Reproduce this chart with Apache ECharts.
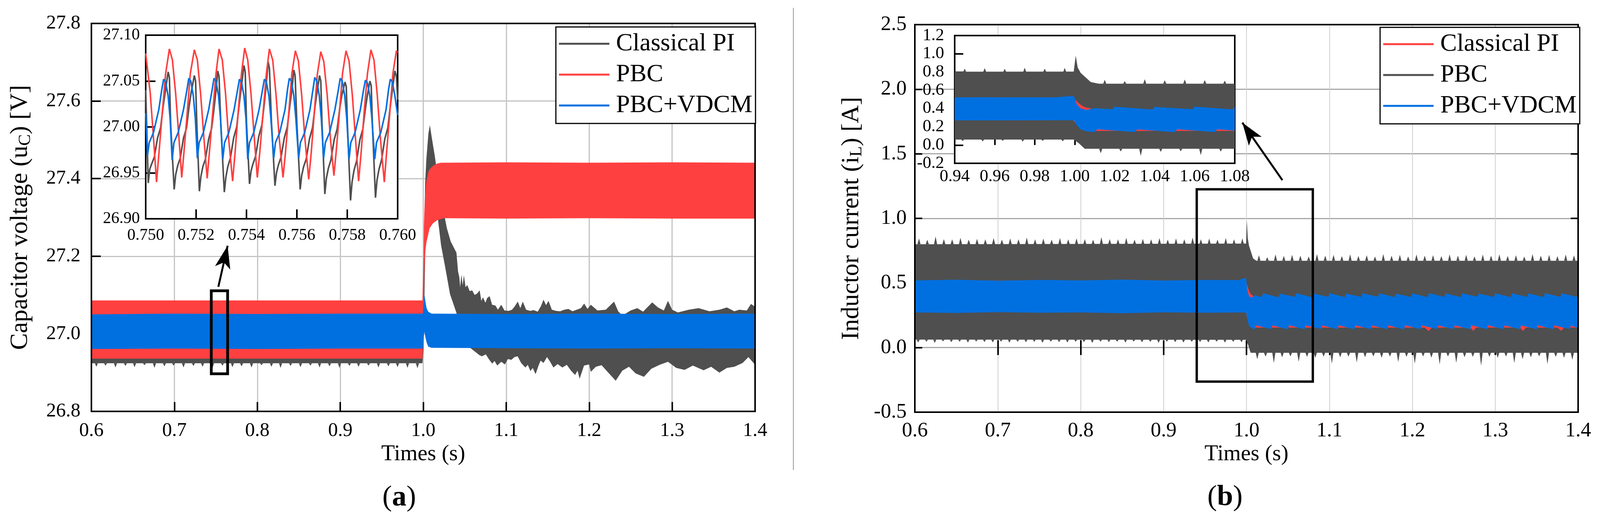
<!DOCTYPE html>
<html>
<head>
<meta charset="utf-8">
<title>uC / iL</title>
<script src="https://cdn.jsdelivr.net/npm/echarts/dist/echarts.min.js"></script>
<style>
html, body { margin: 0; padding: 0; background: #fff; overflow: hidden; }
#chart { width: 4171px; height: 1331px; }
</style>
</head>
<body>
<div id="chart"></div>
<script>
// (a) 电容电压 主图包络 —— Classical PI (灰)
var aPiUpT = [0.600,0.999,1.0003,1.0015,1.0023,1.0038,1.0062,1.0080,1.0108,1.0138,1.0154,1.0200,1.0250,1.0285,1.0331,1.0400,1.0420,1.0435,1.0445,1.0460,1.0475,1.0490,1.0510,1.0530,1.0560,1.0590,1.0620,1.0650,1.0680,1.0700,1.0720,1.0750,1.0770,1.0800,1.0830,1.0870,1.0900,1.0940,1.0980,1.1030,1.1070,1.1100,1.1140,1.1170,1.1200,1.1240,1.1290,1.1330,1.1380,1.1420,1.1450,1.1480,1.1510,1.1550,1.1600,1.1650,1.1700,1.1750,1.1800,1.1850,1.1900,1.1940,1.1980,1.2020,1.2100,1.2200,1.2300,1.2350,1.2400,1.2500,1.2580,1.2650,1.2760,1.2830,1.2900,1.2950,1.3000,1.3070,1.3200,1.3320,1.3450,1.3570,1.3660,1.3750,1.3810,1.3900,1.3950,1.4000];
var aPiUpV = [27.070,27.070,27.150,27.300,27.388,27.451,27.516,27.538,27.499,27.460,27.436,27.380,27.310,27.272,27.238,27.209,27.160,27.146,27.120,27.153,27.125,27.151,27.120,27.126,27.110,27.112,27.100,27.104,27.112,27.085,27.094,27.080,27.092,27.097,27.075,27.073,27.062,27.075,27.060,27.059,27.062,27.070,27.083,27.066,27.083,27.062,27.059,27.061,27.057,27.072,27.088,27.074,27.085,27.062,27.059,27.058,27.062,27.064,27.058,27.062,27.066,27.078,27.064,27.075,27.060,27.062,27.083,27.058,27.047,27.060,27.066,27.057,27.081,27.068,27.060,27.085,27.062,27.055,27.062,27.066,27.058,27.062,27.068,27.058,27.062,27.060,27.077,27.070];
var aPiLoT = [0.600,0.999,1.0003,1.0015,1.0023,1.0038,1.0062,1.0080,1.0108,1.0154,1.0177,1.0215,1.0262,1.0323,1.0362,1.0400,1.0450,1.0500,1.0600,1.0677,1.0708,1.0754,1.0790,1.0831,1.0860,1.0892,1.0940,1.0985,1.1020,1.1062,1.1100,1.1138,1.1180,1.1231,1.1260,1.1292,1.1320,1.1354,1.1390,1.1415,1.1450,1.1492,1.1530,1.1569,1.1620,1.1677,1.1730,1.1785,1.1831,1.1860,1.1885,1.1910,1.1938,1.2000,1.2020,1.2080,1.2150,1.2230,1.2320,1.2400,1.2480,1.2560,1.2660,1.2750,1.2850,1.2950,1.3050,1.3150,1.3250,1.3380,1.3470,1.3570,1.3660,1.3750,1.3850,1.3920,1.4000];
var aPiLoV = [26.924,26.924,26.960,27.100,27.200,27.300,27.360,27.380,27.370,27.330,27.296,27.228,27.175,27.102,27.078,27.054,27.000,26.975,26.958,26.945,26.942,26.947,26.935,26.923,26.930,26.918,26.928,26.921,26.935,26.933,26.940,26.942,26.925,26.913,26.920,26.904,26.912,26.896,26.918,26.931,26.925,26.940,26.928,26.913,26.922,26.913,26.920,26.904,26.894,26.905,26.884,26.900,26.918,26.921,26.902,26.915,26.919,26.900,26.879,26.905,26.915,26.898,26.889,26.910,26.920,26.928,26.912,26.907,26.918,26.906,26.915,26.900,26.912,26.915,26.925,26.940,26.920];
// Classical PI 0.6-1.0 s 下沿的尖刺
var aPiSpikeT = [0.606,0.617,0.629,0.641,0.652,0.664,0.676,0.688,0.699,0.711,0.723,0.734,0.746,0.758,0.770,0.781,0.793,0.805,0.817,0.828,0.840,0.852,0.864,0.875,0.887,0.899,0.911,0.922,0.934,0.946,0.958,0.969,0.981,0.993];
var aPiSpikeV = [26.915,26.918,26.913,26.917,26.914,26.919,26.912,26.916,26.918,26.913,26.917,26.915,26.912,26.918,26.914,26.916,26.913,26.919,26.915,26.912,26.917,26.914,26.918,26.913,26.916,26.912,26.917,26.915,26.918,26.913,26.916,26.914,26.912,26.911];
var aPiSpikeBase = 26.924;

// (a) PBC (红)
var aPbT = [0.600,0.999,1.0003,1.0008,1.0015,1.0023,1.0038,1.0046,1.0062,1.0077,1.0108,1.0123,1.0169,1.0215,1.0246,1.1000,1.2000,1.3000,1.4000];
var aPbUpV = [27.086,27.086,27.200,27.280,27.325,27.359,27.395,27.402,27.417,27.424,27.431,27.434,27.439,27.441,27.441,27.442,27.441,27.442,27.441];
var aPbLoV = [26.936,26.936,26.990,27.100,27.170,27.209,27.235,27.243,27.258,27.272,27.282,27.286,27.293,27.296,27.298,27.297,27.298,27.297,27.297];

// (a) PBC+VDCM (蓝)
var aVdT = [0.600,0.700,0.800,0.900,0.9995,1.0005,1.0015,1.0025,1.0040,1.0060,1.0100,1.1000,1.2000,1.3000,1.4000];
var aVdUpV = [27.050,27.052,27.051,27.052,27.052,27.085,27.100,27.085,27.066,27.057,27.052,27.051,27.052,27.051,27.052];
var aVdLoV = [26.961,26.962,26.961,26.962,26.962,26.990,27.005,26.992,26.978,26.967,26.964,26.963,26.962,26.963,26.962];

// (a) 局部放大 0.750-0.760 s
var insRedT = [0.75000,0.75018,0.75033,0.75043,0.75053,0.75066,0.75079,0.75094,0.75106,0.75119,0.75132,0.75143,0.75152,0.75165,0.75177,0.75193,0.75205,0.75218,0.75231,0.75244,0.75253,0.75266,0.75279,0.75291,0.75304,0.75317,0.75329,0.75345,0.75355,0.75367,0.75380,0.75393,0.75405,0.75418,0.75431,0.75443,0.75453,0.75466,0.75479,0.75491,0.75504,0.75517,0.75530,0.75545,0.75555,0.75568,0.75580,0.75594,0.75606,0.75619,0.75632,0.75647,0.75657,0.75669,0.75681,0.75695,0.75707,0.75720,0.75733,0.75747,0.75756,0.75769,0.75781,0.75795,0.75807,0.75820,0.75833,0.75845,0.75855,0.75867,0.75880,0.75894,0.75906,0.75919,0.75932,0.75947,0.75956,0.75969,0.75981,0.75995,0.76000];
var insRedV = [27.080,27.037,26.980,26.940,26.973,27.016,27.058,27.085,27.073,27.036,26.988,26.945,26.973,27.016,27.058,27.084,27.073,27.036,26.988,26.944,26.973,27.016,27.058,27.085,27.073,27.036,26.988,26.941,26.973,27.016,27.058,27.086,27.073,27.036,26.988,26.945,26.973,27.016,27.058,27.085,27.073,27.036,26.988,26.945,26.973,27.016,27.058,27.083,27.072,27.035,26.987,26.943,26.972,27.015,27.057,27.082,27.071,27.036,26.988,26.947,26.973,27.016,27.058,27.083,27.072,27.035,26.986,26.941,26.972,27.016,27.058,27.084,27.073,27.035,26.986,26.940,26.972,27.016,27.058,27.083,27.081];
var insBlueT = [0.75000,0.75007,0.75014,0.75031,0.75052,0.75064,0.75071,0.75079,0.75089,0.75097,0.75105,0.75112,0.75129,0.75150,0.75164,0.75171,0.75179,0.75189,0.75197,0.75205,0.75212,0.75229,0.75250,0.75264,0.75271,0.75279,0.75289,0.75297,0.75306,0.75313,0.75330,0.75351,0.75365,0.75372,0.75380,0.75390,0.75398,0.75405,0.75412,0.75429,0.75450,0.75464,0.75471,0.75479,0.75489,0.75497,0.75508,0.75515,0.75532,0.75553,0.75563,0.75570,0.75578,0.75588,0.75596,0.75607,0.75614,0.75631,0.75652,0.75664,0.75671,0.75679,0.75689,0.75697,0.75706,0.75713,0.75730,0.75751,0.75765,0.75772,0.75780,0.75790,0.75798,0.75807,0.75814,0.75831,0.75852,0.75865,0.75872,0.75880,0.75890,0.75898,0.75909,0.75916,0.75933,0.75954,0.75964,0.75971,0.75979,0.75989,0.76000];
var insBlueV = [27.015,26.969,26.983,26.994,27.019,27.041,27.052,27.049,27.034,27.009,26.964,26.983,26.994,27.019,27.041,27.053,27.050,27.034,27.009,26.966,26.983,26.994,27.019,27.041,27.053,27.050,27.034,27.009,26.965,26.983,26.994,27.019,27.041,27.052,27.049,27.034,27.009,26.965,26.983,26.994,27.019,27.041,27.052,27.049,27.034,27.009,26.966,26.983,26.994,27.019,27.041,27.053,27.050,27.034,27.009,26.966,26.983,26.994,27.019,27.041,27.054,27.050,27.034,27.009,26.966,26.983,26.994,27.019,27.041,27.053,27.050,27.034,27.009,26.965,26.983,26.994,27.019,27.041,27.051,27.048,27.033,27.008,26.965,26.983,26.994,27.019,27.041,27.052,27.049,27.034,27.013];
var insGrayT = [0.75000,0.75005,0.75010,0.75016,0.75024,0.75034,0.75047,0.75059,0.75069,0.75077,0.75089,0.75094,0.75099,0.75113,0.75119,0.75127,0.75137,0.75150,0.75162,0.75172,0.75180,0.75193,0.75198,0.75203,0.75213,0.75219,0.75227,0.75237,0.75250,0.75262,0.75272,0.75279,0.75286,0.75291,0.75298,0.75312,0.75318,0.75326,0.75336,0.75349,0.75361,0.75371,0.75379,0.75390,0.75395,0.75400,0.75412,0.75418,0.75426,0.75436,0.75449,0.75461,0.75471,0.75478,0.75486,0.75491,0.75499,0.75513,0.75519,0.75527,0.75537,0.75550,0.75562,0.75572,0.75580,0.75588,0.75593,0.75600,0.75613,0.75619,0.75627,0.75637,0.75650,0.75662,0.75672,0.75680,0.75690,0.75695,0.75700,0.75711,0.75717,0.75725,0.75735,0.75748,0.75760,0.75770,0.75778,0.75791,0.75796,0.75801,0.75813,0.75819,0.75827,0.75837,0.75850,0.75862,0.75872,0.75880,0.75890,0.75895,0.75900,0.75912,0.75918,0.75926,0.75936,0.75949,0.75961,0.75971,0.75979,0.75989,0.75995,0.76000];
var insGrayV = [27.040,26.990,26.939,26.954,26.960,26.967,26.988,26.999,27.022,27.037,27.060,27.054,27.003,26.932,26.948,26.958,26.966,26.988,26.999,27.022,27.037,27.056,27.050,27.002,26.930,26.946,26.957,26.965,26.987,26.999,27.022,27.040,27.061,27.055,27.003,26.929,26.945,26.957,26.966,26.988,27.000,27.024,27.042,27.067,27.060,27.005,26.938,26.952,26.960,26.968,26.990,27.002,27.026,27.045,27.071,27.064,27.006,26.936,26.950,26.959,26.967,26.988,27.000,27.023,27.040,27.062,27.056,27.003,26.932,26.947,26.957,26.965,26.987,26.999,27.022,27.038,27.056,27.050,27.002,26.927,26.944,26.955,26.964,26.986,26.998,27.020,27.034,27.049,27.044,27.000,26.920,26.940,26.953,26.963,26.986,26.998,27.020,27.035,27.050,27.045,27.001,26.923,26.942,26.954,26.964,26.987,26.999,27.023,27.040,27.061,27.055,27.030];

// (b) 电感电流 主图包络 —— PBC (灰)
var bPbUpT = [0.600,0.9995,1.0005,1.0015,1.0030,1.0050,1.0080,1.0120,1.4000];
var bPbUpV = [0.800,0.805,0.980,0.850,0.790,0.750,0.690,0.672,0.672];
var bPbLoT = [0.600,0.9995,1.0020,1.0050,1.4000];
var bPbLoV = [0.062,0.060,0.020,-0.040,-0.040];
// PBC 上沿尖刺 (1.0 s 前 / 后)
var bPbSpUpT1 = [0.605,0.615,0.625,0.635,0.645,0.655,0.665,0.675,0.685,0.695,0.705,0.715,0.725,0.735,0.745,0.755,0.765,0.775,0.785,0.795,0.805,0.815,0.825,0.835,0.845,0.855,0.865,0.875,0.885,0.895,0.905,0.915,0.925,0.935,0.945,0.955,0.965,0.975,0.985,0.995];
var bPbSpUpV1 = [0.845,0.835,0.860,0.840,0.838,0.850,0.836,0.842,0.838,0.848,0.836,0.845,0.838,0.852,0.838,0.844,0.836,0.848,0.838,0.846,0.840,0.835,0.855,0.840,0.838,0.850,0.836,0.842,0.838,0.848,0.836,0.845,0.838,0.852,0.838,0.844,0.836,0.848,0.838,0.846];
var bPbSpUpBase1 = 0.800;
var bPbSpUpT2 = [1.015,1.025,1.035,1.045,1.055,1.065,1.075,1.085,1.095,1.105,1.115,1.125,1.135,1.145,1.155,1.165,1.175,1.185,1.195,1.205,1.215,1.225,1.235,1.245,1.255,1.265,1.275,1.285,1.295,1.305,1.315,1.325,1.335,1.345,1.355,1.365,1.375,1.385,1.395];
var bPbSpUpV2 = [0.715,0.700,0.722,0.710,0.718,0.712,0.705,0.724,0.712,0.718,0.708,0.722,0.710,0.715,0.705,0.724,0.712,0.718,0.706,0.720,0.712,0.716,0.708,0.722,0.712,0.718,0.706,0.720,0.712,0.722,0.710,0.715,0.705,0.724,0.712,0.718,0.708,0.720,0.714];
var bPbSpUpBase2 = 0.672;
// PBC 下沿尖刺
var bPbSpLoT1 = [0.604,0.614,0.624,0.634,0.644,0.654,0.664,0.674,0.684,0.694,0.704,0.714,0.724,0.734,0.744,0.754,0.764,0.774,0.784,0.794,0.804,0.814,0.824,0.834,0.844,0.854,0.864,0.874,0.884,0.894,0.904,0.914,0.924,0.934,0.944,0.954,0.964,0.974,0.984,0.994];
var bPbSpLoV1 = [0.040,0.045,0.036,0.048,0.042,0.045,0.038,0.047,0.043,0.040,0.046,0.038,0.045,0.041,0.044,0.037,0.046,0.042,0.039,0.045,0.043,0.036,0.046,0.042,0.045,0.038,0.047,0.041,0.044,0.037,0.046,0.042,0.039,0.045,0.043,0.040,0.046,0.038,0.045,0.041];
var bPbSpLoBase1 = 0.062;
var bPbSpLoT2 = [1.013,1.023,1.033,1.043,1.053,1.063,1.073,1.083,1.093,1.103,1.113,1.123,1.133,1.143,1.153,1.163,1.173,1.183,1.193,1.203,1.213,1.223,1.233,1.243,1.253,1.263,1.273,1.283,1.293,1.303,1.313,1.323,1.333,1.343,1.353,1.363,1.373,1.383,1.393];
var bPbSpLoV2 = [-0.090,-0.070,-0.120,-0.075,-0.068,-0.110,-0.072,-0.080,-0.070,-0.125,-0.075,-0.070,-0.115,-0.075,-0.068,-0.080,-0.070,-0.112,-0.072,-0.125,-0.070,-0.078,-0.130,-0.070,-0.118,-0.075,-0.072,-0.140,-0.072,-0.080,-0.070,-0.120,-0.090,-0.075,-0.068,-0.128,-0.072,-0.080,-0.095];
var bPbSpLoBase2 = -0.040;

// (b) Classical PI (红)
var bPiUpT = [0.600,0.999,1.001,1.003,1.005,1.008,1.010,1.100,1.200,1.300,1.400];
var bPiUpV = [0.518,0.518,0.480,0.440,0.415,0.400,0.390,0.390,0.390,0.390,0.390];
var bPiLoT = [0.600,0.999,1.001,1.003,1.006,1.215,1.2195,1.224,1.270,1.2735,1.277,1.330,1.3335,1.337,1.375,1.3795,1.383,1.400];
var bPiLoV = [0.275,0.275,0.225,0.175,0.155,0.155,0.128,0.155,0.155,0.130,0.155,0.155,0.128,0.155,0.155,0.130,0.155,0.155];

// (b) PBC+VDCM (蓝)
var bVdUpT = [0.600,0.650,0.700,0.750,0.800,0.850,0.900,0.950,0.990,0.9995,1.0010,1.0030,1.0060,1.0100,1.0188,1.0200,1.0388,1.0400,1.0588,1.0600,1.0788,1.0800,1.0988,1.1000,1.1188,1.1200,1.1388,1.1400,1.1588,1.1600,1.1788,1.1800,1.1988,1.2000,1.2188,1.2200,1.2388,1.2400,1.2588,1.2600,1.2788,1.2800,1.2988,1.3000,1.3188,1.3200,1.3388,1.3400,1.3588,1.3600,1.3788,1.3800,1.3988,1.4000];
var bVdUpV = [0.520,0.525,0.518,0.524,0.520,0.526,0.519,0.524,0.522,0.540,0.450,0.400,0.385,0.405,0.392,0.420,0.390,0.418,0.393,0.421,0.391,0.419,0.392,0.422,0.390,0.418,0.392,0.420,0.393,0.421,0.391,0.417,0.392,0.420,0.390,0.422,0.392,0.419,0.391,0.420,0.393,0.418,0.392,0.421,0.390,0.420,0.392,0.419,0.391,0.422,0.392,0.420,0.393,0.421];
var bVdLoT = [0.600,0.650,0.700,0.750,0.800,0.850,0.900,0.950,0.9995,1.0010,1.0030,1.0060,1.0100,1.0112,1.0300,1.0312,1.0500,1.0512,1.0700,1.0712,1.0900,1.0912,1.1100,1.1112,1.1300,1.1312,1.1500,1.1512,1.1700,1.1712,1.1900,1.1912,1.2100,1.2112,1.2300,1.2312,1.2500,1.2512,1.2700,1.2712,1.2900,1.2912,1.3100,1.3112,1.3300,1.3312,1.3500,1.3512,1.3700,1.3712,1.3900,1.3912,1.4000];
var bVdLoV = [0.272,0.268,0.274,0.270,0.272,0.266,0.273,0.270,0.272,0.220,0.170,0.150,0.142,0.172,0.143,0.171,0.141,0.173,0.142,0.172,0.144,0.171,0.142,0.173,0.141,0.172,0.143,0.171,0.142,0.172,0.141,0.173,0.142,0.172,0.143,0.171,0.142,0.172,0.141,0.173,0.142,0.172,0.143,0.171,0.142,0.172,0.141,0.173,0.142,0.172,0.143,0.171,0.150];

// 放大框与箭头 (数据坐标)
var boxAT = [0.7445,0.7445,0.7642,0.7642,0.7445,0.7445];
var boxAV = [27.000,26.897,26.897,27.111,27.111,27.000];
var arrowA = [[0.7530,27.121],[0.7642,27.227]];
var boxBT = [0.940,0.940,1.080,1.080,0.940,0.940];
var boxBV = [0.500,-0.263,-0.263,1.225,1.225,0.500];
var arrowB = [[1.0433,1.296],[0.9950,1.741]];

var legendNames = ['Classical PI', 'PBC', 'PBC+VDCM'];

var FONT = '"Liberation Serif","Times New Roman",Times,serif';
var RED = '#ff4040', BLUE = '#0070e0', GRAY = '#4f4f4f';

// 版面按 4171x1331 设计，按实际窗口等比换算横向 / 纵向位置
var W = window.innerWidth || 4171, H = window.innerHeight || 1331;
var SX = W / 4171, SY = H / 1331;
function px(x) { return Math.round(x * SX); }
function py(y) { return Math.round(y * SY); }

function zip(t, v) {
    var out = [];
    for (var i = 0; i < Math.min(t.length, v.length); i++) out.push([t[i], v[i]]);
    return out;
}
function f1(v) { return v.toFixed(1); }
function f2(v) { return v.toFixed(2); }
function f3(v) { return v.toFixed(3); }

// 上下包络围成的色带
function band(name, color, axis, upT, upV, loT, loV, z) {
    var up = zip(upT, upV), lo = zip(loT, loV);
    return {
        type: 'custom', name: name, xAxisIndex: axis, yAxisIndex: axis,
        clip: true, z: z, silent: true,
        itemStyle: {color: color},
        encode: {x: 0, y: 1},
        data: up,
        renderItem: function (params, api) {
            if (params.dataIndex !== 0) return null;
            var pts = [];
            for (var i = 0; i < up.length; i++) pts.push(api.coord(up[i]));
            for (var j = lo.length - 1; j >= 0; j--) pts.push(api.coord(lo[j]));
            return {type: 'polygon', shape: {points: pts}, style: {fill: color}};
        }
    };
}
// 色带边沿上的细尖刺
function spikes(name, color, axis, t, v, base, z) {
    return {
        type: 'custom', name: name, xAxisIndex: axis, yAxisIndex: axis,
        clip: true, z: z, silent: true,
        itemStyle: {color: color},
        encode: {x: 0, y: 1},
        data: zip(t, v),
        renderItem: function (params, api) {
            var tip = api.coord([api.value(0), api.value(1)]);
            var foot = api.coord([api.value(0), base]);
            return {
                type: 'polygon',
                shape: {points: [[foot[0] - 4, foot[1]], tip, [foot[0] + 4, foot[1]]]},
                style: {fill: color}
            };
        }
    };
}
function wave(name, color, t, v) {
    return {
        type: 'line', name: name, xAxisIndex: 1, yAxisIndex: 1, z: 7,
        showSymbol: false, symbol: 'none', silent: true,
        lineStyle: {color: color, width: 4},
        itemStyle: {color: color},
        data: zip(t, v)
    };
}
function zoomBox(axis, t, v, arrow, width) {
    return {
        type: 'line', name: 'box' + axis, xAxisIndex: axis, yAxisIndex: axis, z: 4,
        showSymbol: false, symbol: 'none', silent: true,
        lineStyle: {color: '#000', width: width, cap: 'square', join: 'miter'},
        data: zip(t, v),
        markLine: {
            silent: true, symbol: ['none', 'arrow'], symbolSize: [30, 58],
            label: {show: false},
            lineStyle: {color: '#000', width: 5, type: 'solid'},
            data: [[{coord: arrow[0]}, {coord: arrow[1]}]]
        }
    };
}
function ticks(len) {
    return {show: true, inside: true, length: len, lineStyle: {color: '#000', width: 4}};
}
function labels(size, margin, fmt) {
    return {show: true, fontSize: size, fontFamily: FONT, color: '#000', margin: margin, formatter: fmt};
}
function legendBox(prefix, left, top, colors) {
    return {
        left: px(left), top: py(top), orient: 'vertical', icon: 'rect',
        itemWidth: px(131), itemHeight: 5, itemGap: 15,
        padding: [11, 8, 14, 8], borderColor: '#000', borderWidth: 3,
        backgroundColor: '#fff', z: 10,
        textStyle: {fontSize: 64, lineHeight: 64, fontFamily: FONT, color: '#000', padding: [0, 0, 0, 12]},
        formatter: function (n) { return n.slice(2); },
        data: legendNames.map(function (n, i) {
            return {name: prefix + n, itemStyle: {color: colors[i]}};
        })
    };
}
function gridBox(left, top, width, height, inset) {
    var g = {left: px(left), top: py(top), width: px(left + width) - px(left), height: py(top + height) - py(top),
        show: true, borderColor: '#000', borderWidth: 4, z: inset ? 5 : 3};
    if (inset) g.backgroundColor = '#fff';
    return g;
}
var yNameRich = {
    t: {fontSize: 64, lineHeight: 64, fontFamily: FONT, color: '#000', verticalAlign: 'top'},
    s: {fontSize: 44, lineHeight: 44, fontFamily: FONT, color: '#000', padding: [27, 0, 0, 0]}
};
var capRich = {
    p: {fontSize: 74, fontFamily: FONT, fill: '#000'},
    b: {fontSize: 74, fontFamily: FONT, fontWeight: 'bold', fill: '#000'}
};

var dom = document.getElementById('chart');
dom.style.width = W + 'px';
dom.style.height = H + 'px';
var chart = echarts.init(dom);
var option = {
    animation: false,
    backgroundColor: '#fff',
    grid: [
        gridBox(238, 60, 1730, 993, false),
        gridBox(380, 90, 657, 470, true),
        gridBox(2385, 63, 1729, 992, false),
        gridBox(2489, 91, 730, 327, true)
    ],
    xAxis: [
        {gridIndex: 0, type: 'value', min: 0.6, max: 1.4, interval: 0.1,
            axisLine: {show: false}, axisTick: ticks(24), axisLabel: labels(50, 25, f1),
            splitLine: {show: true, lineStyle: {color: '#c4c4c4', width: 3}},
            name: 'Times (s)', nameLocation: 'middle', nameGap: 82,
            nameTextStyle: {fontSize: 57, fontFamily: FONT, color: '#000'}},
        {gridIndex: 1, type: 'value', min: 0.750, max: 0.760, interval: 0.002, z: 6,
            axisLine: {show: false}, axisTick: ticks(24), axisLabel: labels(42, 22, f3),
            splitLine: {show: false}},
        {gridIndex: 2, type: 'value', min: 0.6, max: 1.4, interval: 0.1,
            axisLine: {show: false}, axisTick: ticks(19), axisLabel: labels(53, 22, f1),
            splitLine: {show: true, lineStyle: {color: '#d0d0d0', width: 2}},
            name: 'Times (s)', nameLocation: 'middle', nameGap: 80,
            nameTextStyle: {fontSize: 57, fontFamily: FONT, color: '#000'}},
        {gridIndex: 3, type: 'value', min: 0.94, max: 1.08, interval: 0.02, z: 6,
            axisLine: {show: false}, axisTick: ticks(24), axisLabel: labels(44, 12, f2),
            splitLine: {show: false}},
        {gridIndex: 2, type: 'value', position: 'top', min: 0.6, max: 1.4, interval: 0.1,
            axisLine: {show: false}, axisTick: ticks(19), axisLabel: {show: false},
            splitLine: {show: false}}
    ],
    yAxis: [
        {gridIndex: 0, type: 'value', min: 26.8, max: 27.8, interval: 0.2,
            axisLine: {show: false}, axisTick: ticks(24), axisLabel: labels(50, 28, f1),
            splitLine: {show: true, lineStyle: {color: '#c4c4c4', width: 3}},
            name: '{t|Capacitor voltage (u}{s|C}{t|) [V]}', nameLocation: 'middle', nameGap: 150,
            nameTextStyle: {rich: yNameRich}},
        {gridIndex: 1, type: 'value', min: 26.90, max: 27.10, interval: 0.05, z: 6,
            axisLine: {show: false}, axisTick: ticks(25), axisLabel: labels(42, 15, f2),
            splitLine: {show: false}},
        {gridIndex: 2, type: 'value', min: -0.5, max: 2.5, interval: 0.5,
            axisLine: {show: false}, axisTick: ticks(19), axisLabel: labels(53, 21, f1),
            splitLine: {show: true, lineStyle: {color: '#a8a8a8', width: 3}},
            name: '{t|Inductor current (i}{s|L}{t|) [A]}', nameLocation: 'middle', nameGap: 130,
            nameTextStyle: {rich: yNameRich}},
        {gridIndex: 3, type: 'value', min: -0.2, max: 1.2, interval: 0.2, z: 6,
            axisLine: {show: false}, axisTick: ticks(22), axisLabel: labels(44, 27, f1),
            splitLine: {show: false}},
        {gridIndex: 2, type: 'value', position: 'right', min: -0.5, max: 2.5, interval: 0.5,
            axisLine: {show: false}, axisTick: ticks(19), axisLabel: {show: false},
            splitLine: {show: false}}
    ],
    legend: [
        legendBox('a:', 1449, 69, [GRAY, RED, BLUE]),
        legendBox('b:', 3598, 70, [RED, GRAY, BLUE])
    ],
    graphic: [
        {type: 'line', z: 10, shape: {x1: px(2068), y1: py(20), x2: px(2068), y2: py(1203)}, style: {stroke: '#999', lineWidth: 2}},
        {type: 'text', z: 10, x: px(1041), y: py(1275), style: {
            text: '{p|(}{b|a}{p|)}', align: 'center', verticalAlign: 'middle', rich: capRich}},
        {type: 'text', z: 10, x: px(3193), y: py(1274), style: {
            text: '{p|(}{b|b}{p|)}', align: 'center', verticalAlign: 'middle', rich: capRich}}
    ],
    series: [
        band('a:Classical PI', GRAY, 0, aPiUpT, aPiUpV, aPiLoT, aPiLoV, 2),
        spikes('a:Classical PI', GRAY, 0, aPiSpikeT, aPiSpikeV, aPiSpikeBase, 2),
        band('a:PBC', RED, 0, aPbT, aPbUpV, aPbT, aPbLoV, 2),
        band('a:PBC+VDCM', BLUE, 0, aVdT, aVdUpV, aVdT, aVdLoV, 2),
        wave('a:Classical PI', GRAY, insGrayT, insGrayV),
        wave('a:PBC', RED, insRedT, insRedV),
        wave('a:PBC+VDCM', BLUE, insBlueT, insBlueV),
        zoomBox(0, boxAT, boxAV, arrowA, 7),

        band('b:PBC', GRAY, 2, bPbUpT, bPbUpV, bPbLoT, bPbLoV, 2),
        spikes('b:PBC', GRAY, 2, bPbSpUpT1, bPbSpUpV1, bPbSpUpBase1, 2),
        spikes('b:PBC', GRAY, 2, bPbSpUpT2, bPbSpUpV2, bPbSpUpBase2, 2),
        spikes('b:PBC', GRAY, 2, bPbSpLoT1, bPbSpLoV1, bPbSpLoBase1, 2),
        spikes('b:PBC', GRAY, 2, bPbSpLoT2, bPbSpLoV2, bPbSpLoBase2, 2),
        band('b:Classical PI', RED, 2, bPiUpT, bPiUpV, bPiLoT, bPiLoV, 2),
        band('b:PBC+VDCM', BLUE, 2, bVdUpT, bVdUpV, bVdLoT, bVdLoV, 2),

        band('b:PBC', GRAY, 3, bPbUpT, bPbUpV, bPbLoT, bPbLoV, 7),
        spikes('b:PBC', GRAY, 3, bPbSpUpT1, bPbSpUpV1, bPbSpUpBase1, 7),
        spikes('b:PBC', GRAY, 3, bPbSpUpT2, bPbSpUpV2, bPbSpUpBase2, 7),
        spikes('b:PBC', GRAY, 3, bPbSpLoT1, bPbSpLoV1, bPbSpLoBase1, 7),
        spikes('b:PBC', GRAY, 3, bPbSpLoT2, bPbSpLoV2, bPbSpLoBase2, 7),
        band('b:Classical PI', RED, 3, bPiUpT, bPiUpV, bPiLoT, bPiLoV, 7),
        band('b:PBC+VDCM', BLUE, 3, bVdUpT, bVdUpV, bVdLoT, bVdLoV, 7),
        zoomBox(2, boxBT, boxBV, arrowB, 6)
    ]
};
chart.setOption(option);

window.addEventListener('resize', function () {
    chart.resize();
});
</script>
</body>
</html>
